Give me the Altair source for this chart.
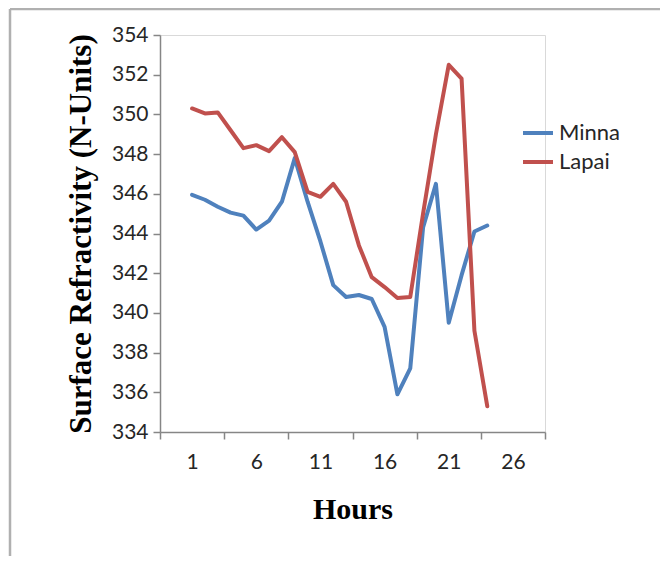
import altair as alt
import pandas as pd

hours = list(range(1, 25))
minna = [345.95, 345.7, 345.35, 345.05, 344.9, 344.2, 344.65, 345.6, 347.8, 345.6,
         343.6, 341.4, 340.8, 340.9, 340.7, 339.3, 335.9, 337.2, 344.3, 346.5,
         339.5, 341.9, 344.1, 344.4]
lapai = [350.3, 350.05, 350.1, 349.2, 348.3, 348.45, 348.15, 348.85, 348.1, 346.1,
         345.85, 346.5, 345.6, 343.4, 341.8, 341.3, 340.75, 340.8, 345.0, 349.0,
         352.5, 351.8, 339.1, 335.3]
series_names = ["Minna", "Lapai"]
series_colors = ["#4f81bd", "#c0504d"]
y_ticks = list(range(334, 356, 2))
x_tick_positions = [-1.5, 3.5, 8.5, 13.5, 18.5, 23.5, 28.5]

rows = []
for name, vals in zip(series_names, [minna, lapai]):
    for h, v in zip(hours, vals):
        rows.append({"Hour": h, "Value": v, "Series": name})
df = pd.DataFrame(rows)

lines = alt.Chart(df).mark_line(strokeWidth=4, strokeJoin="round", strokeCap="round").encode(
    x=alt.X("Hour:Q",
            scale=alt.Scale(domain=[-1.5, 28.5], nice=False, zero=False),
            axis=alt.Axis(values=x_tick_positions, title="Hours",
                          labelExpr="datum.value > 28 ? '' : format(datum.value + 2.5, 'd')",
                          labelOffset=32.08, labelFlush=False, labelOverlap=False,
                          grid=False, tickSize=7, labelPadding=12, titlePadding=22,
                          titleFontSize=30)),
    y=alt.Y("Value:Q",
            scale=alt.Scale(domain=[334, 354], nice=False, zero=False),
            axis=alt.Axis(values=y_ticks, title="Surface Refractivity (N-Units)",
                          grid=False, tickSize=7, labelPadding=5, titlePadding=14,
                          titleFontSize=31)),
    color=alt.Color("Series:N",
                    scale=alt.Scale(domain=series_names, range=series_colors),
                    sort=series_names,
                    legend=alt.Legend(title=None, orient="none", legendX=361, legendY=81,
                                      symbolType="stroke", symbolSize=900, symbolStrokeWidth=4,
                                      labelFont="Lato", labelFontSize=22, labelColor="#262626",
                                      labelOffset=4, rowPadding=1)),
)

frame_data = alt.Data(values=[{"k": 1}])
top_rule = alt.Chart(frame_data).mark_rule(color="#b0b0b0", strokeWidth=2.5).encode(
    x=alt.value(-150), x2=alt.value(508), y=alt.value(-26))
left_rule = alt.Chart(frame_data).mark_rule(color="#b0b0b0", strokeWidth=2.5).encode(
    x=alt.value(-150), y=alt.value(-26), y2=alt.value(530))

chart = alt.layer(top_rule, left_rule, lines).properties(
    width=385, height=397,
    autosize=alt.AutoSizeParams(type="none"),
    padding={"left": 152, "top": 27, "right": 115, "bottom": 124},
    background="white",
).configure_view(
    stroke="#d9d9d9", strokeWidth=1
).configure_axis(
    domainColor="#868686", tickColor="#868686", domainWidth=1.5, tickWidth=1.5,
    labelFont="Lato", labelFontSize=21, labelColor="#262626",
    titleFont="Liberation Serif", titleFontWeight="bold", titleColor="#000000",
)

chart.save("out.html", embed_options={"renderer": "svg", "actions": False})
